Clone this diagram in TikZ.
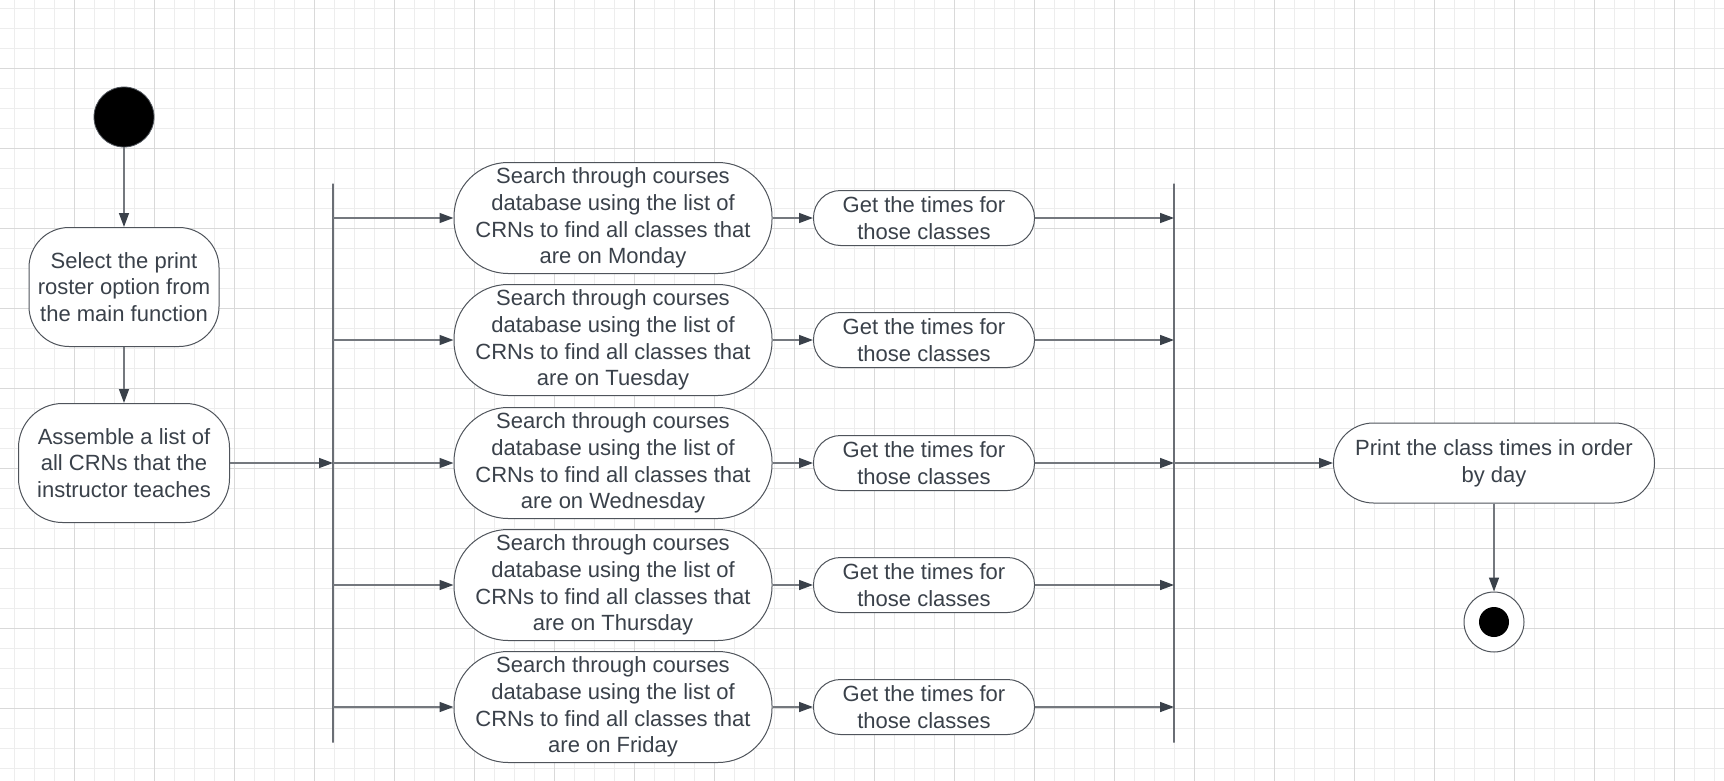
\documentclass[tikz,border=0pt]{standalone}
\usepackage{fontspec}
\setmainfont{Liberation Sans}
\usepackage{xcolor}
\usetikzlibrary{arrows.meta}
\definecolor{rostertext}{HTML}{3A414A}
\definecolor{rosterline}{HTML}{74787E}
\definecolor{rostertip}{HTML}{3A414A}
\definecolor{rosteredge}{HTML}{4F545B}
\definecolor{rosterbar}{HTML}{6A6E75}
\definecolor{gridminor}{HTML}{EDEDED}
\definecolor{gridmajor}{HTML}{D9D9D9}

\begin{document}
\begin{tikzpicture}[
    x=0.5pt,y=-0.5pt,
    act/.style={rectangle, draw=rosteredge, line width=0.5pt, fill=white, text=rostertext, align=center, inner sep=1pt, font=\fontsize{11}{13.4}\selectfont},
    search/.style={act, rounded corners=27pt, minimum width=159pt, minimum height=55.5pt},
    times/.style={act, rounded corners=13.5pt, minimum width=110.5pt, minimum height=27.5pt},
    bar/.style={draw=rosterbar, line width=0.6pt, minimum width=0pt, minimum height=279.5pt, inner sep=0pt},
    link/.style={draw=rosterline, line width=0.75pt, -{Triangle[length=7pt,width=5pt,color=rostertip]}}
  ]
    \useasboundingbox (0,0) rectangle (1724,781);
    \fill[white] (0,0) rectangle (1724,781);

    % background grid
    \foreach \gx in {0,...,85} \draw[gridminor, line width=0.5pt] ({14.3+20*\gx},0) -- ++(0,781);
    \foreach \gy in {0,...,38} \draw[gridminor, line width=0.5pt] (0,{8.3+20*\gy}) -- ++(1724,0);
    \foreach \gx in {0,...,20} \draw[gridmajor, line width=0.5pt] ({74.3+80*\gx},0) -- ++(0,781);
    \foreach \gy in {0,...,8} \draw[gridmajor, line width=0.5pt] (0,{68.3+80*\gy}) -- ++(1724,0);

    \node[circle, fill=black, draw=rosteredge, line width=0.4pt, minimum size=30pt, inner sep=0pt] (start) at (124,117) {};
    \node[act, rounded corners=20pt, minimum width=95pt, minimum height=59.5pt] (select) at (124,287) {Select the print\\roster option from\\the main function};
    \node[act, rounded corners=22pt, minimum width=105.5pt, minimum height=59.5pt] (assemble) at (124,463) {Assemble a list of\\all CRNs that the\\instructor teaches};

    \node[bar] (fork) at (333,463) {};
    \node[bar] (join) at (1174,463) {};

    \node[search] (mon) at (613,218) {Search through courses\\database using the list of\\CRNs to find all classes that\\are on Monday};
    \node[search] (tue) at (613,340) {Search through courses\\database using the list of\\CRNs to find all classes that\\are on Tuesday};
    \node[search] (wed) at (613,463) {Search through courses\\database using the list of\\CRNs to find all classes that\\are on Wednesday};
    \node[search] (thu) at (613,585) {Search through courses\\database using the list of\\CRNs to find all classes that\\are on Thursday};
    \node[search] (fri) at (613,707) {Search through courses\\database using the list of\\CRNs to find all classes that\\are on Friday};

    \node[times] (getmon) at (924,218) {Get the times for\\those classes};
    \node[times] (gettue) at (924,340) {Get the times for\\those classes};
    \node[times] (getwed) at (924,463) {Get the times for\\those classes};
    \node[times] (getthu) at (924,585) {Get the times for\\those classes};
    \node[times] (getfri) at (924,707) {Get the times for\\those classes};

    \node[act, rounded corners=20pt, minimum width=160.5pt, minimum height=40pt] (print) at (1494,463) {Print the class times in order\\by day};
    \node[circle, fill=white, draw=rosteredge, line width=0.5pt, minimum size=30pt, inner sep=0pt] (final) at (1494,622) {};
    \node[circle, fill=black, minimum size=15pt, inner sep=0pt] (finaldot) at (final.center) {};

    \draw[link] (start) -- (select);
    \draw[link] (select) -- (assemble);
    \draw[link] (assemble) -- (assemble -| fork);

    \draw[link] (fork |- mon) -- (mon);
    \draw[link] (fork |- tue) -- (tue);
    \draw[link] (fork |- wed) -- (wed);
    \draw[link] (fork |- thu) -- (thu);
    \draw[link] (fork |- fri) -- (fri);

    \draw[link] (mon) -- (getmon);
    \draw[link] (tue) -- (gettue);
    \draw[link] (wed) -- (getwed);
    \draw[link] (thu) -- (getthu);
    \draw[link] (fri) -- (getfri);

    \draw[link] (getmon) -- (getmon -| join);
    \draw[link] (gettue) -- (gettue -| join);
    \draw[link] (getwed) -- (getwed -| join);
    \draw[link] (getthu) -- (getthu -| join);
    \draw[link] (getfri) -- (getfri -| join);

    \draw[link] (join |- print) -- (print);
    \draw[link] (print) -- (final);
  \end{tikzpicture}
\end{document}
